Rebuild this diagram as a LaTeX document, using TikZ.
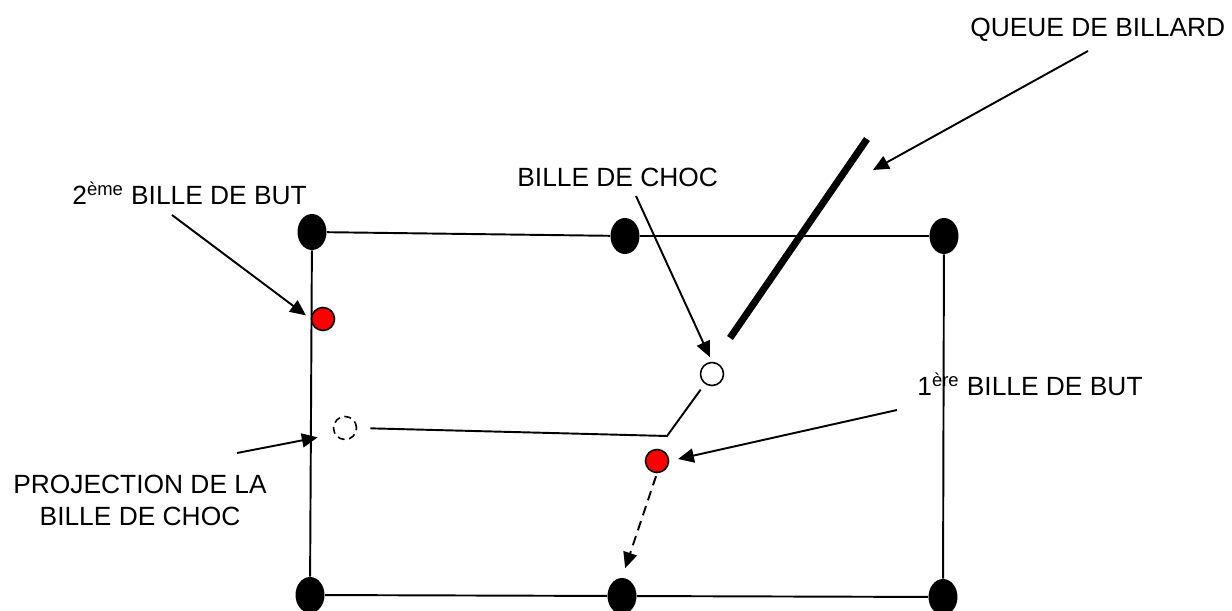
\documentclass[tikz,border=0pt]{standalone}
\usepackage{fontspec}
\setmainfont{Liberation Sans}
\usepackage{tikz}
\usetikzlibrary{arrows.meta, shapes.geometric}
\definecolor{ballred}{RGB}{255,0,0}

\begin{document}
\begin{tikzpicture}[
        x=0.02cm, y=-0.02cm,
        pocket/.style={
            ellipse,
            fill=black,
            inner sep=0pt,
            minimum width=0.58cm,
            minimum height=0.72cm
        },
        ball/.style={
            circle,
            draw=black,
            line width=0.9pt,
            inner sep=0pt,
            minimum size=0.46cm
        },
        ghostball/.style={
            ball,
            dash pattern=on 4pt off 2.6pt
        },
        lbl/.style={
            inner sep=0pt,
            font=\fontsize{15}{18.1}\selectfont
        },
        rail/.style={
            line width=1.1pt
        },
        arrow/.style={
            -{Triangle[length=9pt, width=8pt]},
            line width=1.1pt
        },
        dasharrow/.style={
            arrow,
            dash pattern=on 5.5pt off 3.5pt
        }
    ]
        \path[use as bounding box] (0,0) rectangle (1232,611);
        \clip (0,0) rectangle (1232,611);

        \node (tl) [pocket] at (312,232) {};
        \node (tm) [pocket] at (625,236) {};
        \node (tr) [pocket] at (944,236) {};
        \node (bl) [pocket] at (310,595) {};
        \node (bm) [pocket] at (622,596) {};
        \node (br) [pocket] at (943,597) {};
        \draw [rail] (tl) -- (tm) -- (tr) -- (br) -- (bm) -- (bl) -- (tl);

        \node (target2) [ball, fill=ballred] at (323,319) {};
        \node (cue) [ball, fill=white] at (712,374) {};
        \node (target1) [ball, fill=ballred] at (657,461) {};
        \node (ghost) [ghostball] at (345,428) {};

        \coordinate (kink) at (667,436);
        \draw [rail, shorten <=0.26cm, shorten >=0.14cm] (ghost.east) -- (kink) -- (cue);

        \coordinate (stickbot) at (730,338);
        \coordinate (sticktop) at (867,139);
        \draw [line width=4pt] (stickbot) -- (sticktop);

        \node (queue) [lbl, anchor=base west] at (970,37) {QUEUE DE BILLARD};
        \node (choc) [lbl, anchor=base west] at (517,187) {BILLE DE CHOC};
        \node (but2) [lbl, anchor=base west] at (72,205) {2\textsuperscript{ème} BILLE DE BUT};
        \node (but1) [lbl, anchor=base west] at (917,396) {1\textsuperscript{ère} BILLE DE BUT};
        \node (proj) [lbl, anchor=base, align=center] at (140,525) {PROJECTION DE LA\\BILLE DE CHOC};

        \coordinate (queuetail) at (1088,51);
        \coordinate (queuehead) at (873,170);
        \coordinate (choctail) at (636,196);
        \coordinate (but2tail) at (172,215);
        \coordinate (but1tail) at (897,410);
        \coordinate (projtail) at (237,453);

        \draw [arrow] (queuetail) -- (queuehead);
        \draw [arrow, shorten >=0.1cm] (choctail) -- (cue.north);
        \draw [arrow, shorten >=0.12cm] (but2tail) -- (target2.west);
        \draw [arrow, shorten >=0.18cm] (but1tail) -- (target1.east);
        \draw [arrow, shorten >=0.34cm] (projtail) -- (ghost.210);
        \draw [dasharrow, shorten <=0.06cm, shorten >=0.2cm] (target1.south) -- (bm.north);
    \end{tikzpicture}
\end{document}
